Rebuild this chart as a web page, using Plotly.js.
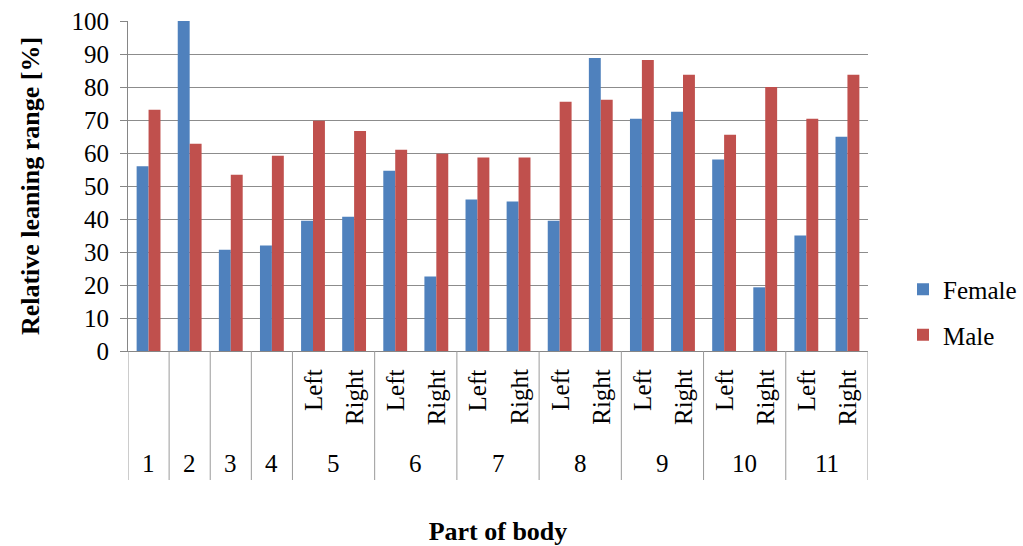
<!DOCTYPE html>
<html>
<head>
<meta charset="utf-8">
<script src="https://cdn.plot.ly/plotly-3.0.1.min.js"></script>
<style>html,body{margin:0;padding:0;background:#fff;} #chart{width:1023px;height:546px;}</style>
</head>
<body>
<div id="chart"></div>
<script>
// Data
var groups = ['1','2','3','4','5','5','6','6','7','7','8','8','9','9','10','10','11','11'];
var sides  = ['','','','','Left','Right','Left','Right','Left','Right','Left','Right','Left','Right','Left','Right','Left','Right'];
var female = [56, 100, 30.7, 32, 39.5, 40.7, 54.6, 22.6, 45.9, 45.3, 39.5, 88.8, 70.4, 72.5, 58, 19.3, 35, 64.9];
var male   = [73.1, 62.8, 53.4, 59.2, 69.8, 66.7, 61, 59.8, 58.6, 58.6, 75.5, 76.1, 88.2, 83.7, 65.5, 80, 70.4, 83.7];
var seriesNames = ['Female', 'Male'];
var yTitle = 'Relative leaning range [%]';
var xTitle = 'Part of body';

var FONT = "'Liberation Serif', 'Times New Roman', serif";
var cats = groups.map(function(g, i){ return 'g' + g + sides[i]; });

var traces = [
  {type:'bar', name:seriesNames[0], x:cats, y:female, marker:{color:'#4F81BD'}, legendgroup:'a'},
  {type:'bar', name:seriesNames[1], x:cats, y:male, marker:{color:'#C0504D'}, legendgroup:'b'}
];

var plotH = 330;
function py(pix){ return (351 - pix) / plotH; }

var shapes = [];
var annotations = [];
var lineColor = '#9a9a9a';
var bounds = [-0.5];
for (var i = 1; i < groups.length; i++) {
  if (groups[i] !== groups[i-1]) bounds.push(i - 0.5);
}
bounds.push(groups.length - 0.5);
bounds.forEach(function(b){
  shapes.push({type:'line', xref:'x', yref:'paper', x0:b, x1:b, y0:0, y1:py(480), line:{color:lineColor, width:1}});
});
cats.forEach(function(c, i){
  if (sides[i]) {
    annotations.push({xref:'x', yref:'paper', x:i, y:py(367), text:sides[i], showarrow:false,
      textangle:-90, yanchor:'top', xanchor:'center', font:{family:FONT, size:25, color:'#000'}});
  }
});
var seen = {};
groups.forEach(function(g, i){
  if (seen[g] === undefined) {
    var idx = [];
    groups.forEach(function(h, j){ if (h === g) idx.push(j); });
    var mid = (idx[0] + idx[idx.length-1]) / 2;
    seen[g] = mid;
    annotations.push({xref:'x', yref:'paper', x:mid, y:py(463), text:g, showarrow:false,
      yanchor:'middle', xanchor:'center', font:{family:FONT, size:25, color:'#000'}});
  }
});

var layout = {
  width:1023, height:546,
  margin:{l:128, r:155, t:21, b:195, autoexpand:false},
  paper_bgcolor:'#fff', plot_bgcolor:'#fff',
  barmode:'group', bargap:0.42, bargroupgap:0,
  font:{family:FONT, size:25, color:'#000'},
  showlegend:true,
  legend:{x:(903-128)/740, xanchor:'left', y:py(312), yanchor:'middle', tracegroupgap:10,
    font:{family:FONT, size:25, color:'#000'}, bgcolor:'rgba(0,0,0,0)'},
  xaxis:{type:'category', categoryorder:'array', categoryarray:cats, range:[-0.5, groups.length-0.5],
    showticklabels:false, ticks:'', showgrid:false, zeroline:false,
    showline:true, linecolor:'#868686', linewidth:1,
    title:{text:'<b>' + xTitle + '</b>', font:{family:FONT, size:26, color:'#000'}, standoff:171}},
  yaxis:{range:[0,100], dtick:10, tick0:0, showgrid:true, gridcolor:'#8c8c8c', gridwidth:1,
    zeroline:false, showline:true, linecolor:'#868686', linewidth:1,
    ticks:'outside', ticklen:7, tickcolor:'#868686', ticklabelstandoff:6,
    tickfont:{family:FONT, size:25, color:'#000'},
    title:{text:'<b>' + yTitle + '</b>', font:{family:FONT, size:26, color:'#000'}, standoff:24}},
  shapes:shapes,
  annotations:annotations
};

Plotly.newPlot('chart', traces, layout, {displayModeBar:false, staticPlot:true});
</script>
</body>
</html>
